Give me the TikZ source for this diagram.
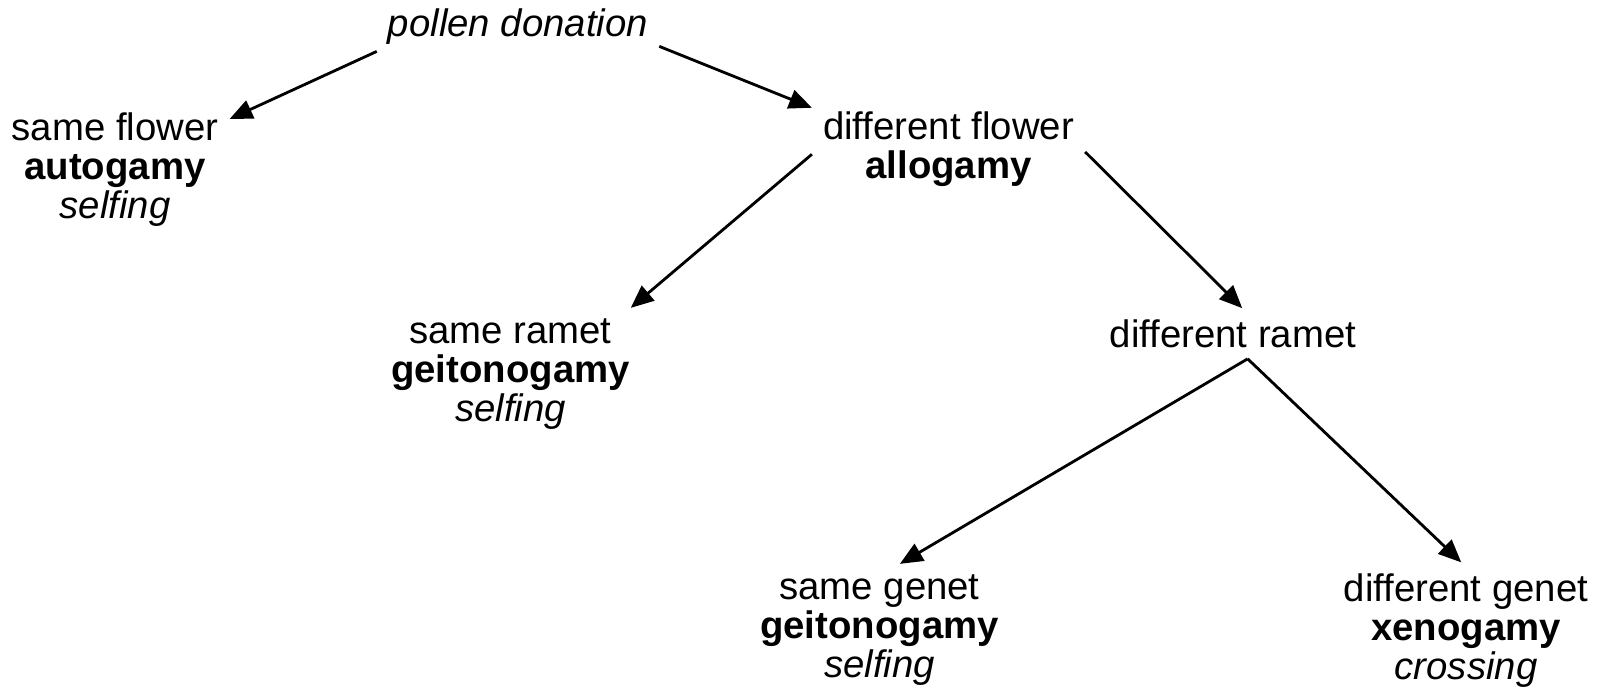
\documentclass[tikz,border=0pt]{standalone}
\usepackage{fontspec}
\setmainfont{Liberation Sans}
\usetikzlibrary{arrows.meta}

\begin{document}
\begin{tikzpicture}[x=0.01cm,y=-0.01cm,
    every node/.style={inner sep=3pt,align=center,font=\fontsize{10.9}{11.1}\selectfont},
    arr/.style={-{Triangle[length=6.5pt,width=5.5pt]},line width=0.8pt}]
                \useasboundingbox (0,0) rectangle (1601,687);
                \node (pd) at (518,26.5) {\itshape pollen donation};
                \node (sf) at (115,170) {same flower\\\textbf{autogamy}\\\itshape selfing};
                \node (df) at (948.5,149.5) {different flower\\\textbf{allogamy}};
                \node (sr) at (510.5,374.5) {same ramet\\\textbf{geitonogamy}\\\itshape selfing};
                \node (dr) at (1233,333.5) {different ramet};
                \node (sg) at (879.5,630.5) {same genet\\\textbf{geitonogamy}\\\itshape selfing};
                \node (dg) at (1466,630.5) {different genet\\\textbf{xenogamy}\\\itshape crossing};
                \draw[arr] (pd.190) -- (sf.24);
                \draw[arr] (pd.-8) -- (df.163);
                \draw[arr] (df.182) -- (sr.29);
                \draw[arr] (df.-1) -- (dr.70);
                \draw[arr] (dr.-60) -- (sg.73);
                \draw[arr] (dr.-60) -- (dg.94);
            \end{tikzpicture}
\end{document}
